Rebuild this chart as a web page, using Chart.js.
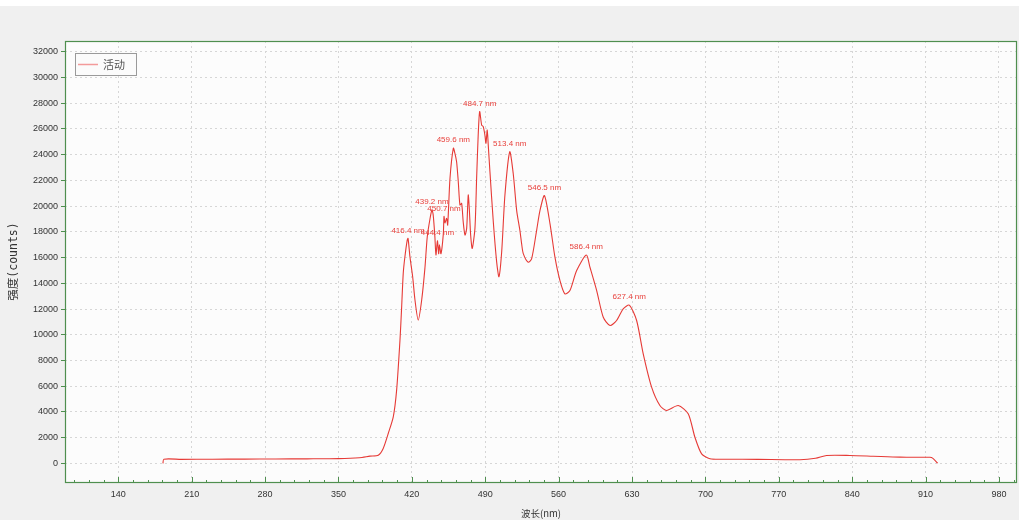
<!DOCTYPE html>
<html>
<head>
<meta charset="utf-8">
<script src="https://cdn.jsdelivr.net/npm/chart.js@4/dist/chart.umd.min.js"></script>
<style>
html,body{margin:0;padding:0;background:#f0f0f0;}
#wrap{width:1019px;height:520px;}
</style>
</head>
<body>
<div id="wrap"><canvas id="c" width="1019" height="520"></canvas></div>
<script>
// ---- data ----
const seriesLabel = '活动';
const wavelength = [182.6,183.5,200,230,260,290,320,350,370,380.1,388.0,392.7,397.5,402.3,405.5,408.7,410.3,411.8,413.4,415.6,416.4,418.2,420.8,423.0,426.1,429.4,432.5,434.7,437.3,439.2,440.4,442.0,443.0,444.4,445.6,446.3,447.8,450.0,450.7,451.6,453.2,454.2,456.4,459.6,461.1,462.7,464.3,465.9,467.5,469.0,470.7,472.3,473.8,474.8,476.1,477.6,480.2,481.8,483.3,484.7,486.6,488.1,489.7,490.7,491.9,492.9,494.5,497.7,500.9,503.1,505.7,508.8,513.4,516.7,520.0,523.1,524.7,526.3,531.0,534.3,539.0,542.2,546.5,551.8,556.5,561.3,566.0,570.8,577.2,586.4,589.9,596.3,602.6,609.0,615.3,621.6,627.4,634.4,640.7,648.7,656.6,663.0,674.1,683.6,690.0,696.4,704.3,720,750,790.2,805,815.6,837.9,860,885.5,914.1,917,921.5];
const intensity = [0,330,320,330,340,350,360,380,450,570,645,1170,2330,3620,5700,9590,12170,14770,16060,17360,17490,16060,14510,12700,11140,12700,15200,17600,19000,19700,19300,17600,16200,17300,16300,17000,16300,17800,19200,18700,19050,18530,22160,24500,24100,23450,21890,20080,20210,18780,17750,18270,20860,19820,17750,16710,18270,22160,25520,27350,26300,26170,25520,24880,25910,24740,22670,18780,15670,14510,16450,20860,24220,22530,19650,18100,17090,16310,15640,15920,18100,19650,20820,18620,16030,14210,13180,13440,14990,16200,15250,13440,11360,10720,11110,12020,12300,11110,8520,5930,4500,4120,4500,3860,2040,750,365,330,320,290,400,620,620,560,490,480,400,20];
const peakWl  = [416.4, 439.2, 444.4, 450.7, 459.6, 484.7, 513.4, 546.5, 586.4, 627.4];
const peakVal = [17490, 19700, 17300, 19200, 24500, 27350, 24220, 20820, 16200, 12300];
const xTicks = [140,210,280,350,420,490,560,630,700,770,840,910,980];
const yTicks = [0,2000,4000,6000,8000,10000,12000,14000,16000,18000,20000,22000,24000,26000,28000,30000,32000];
const xTitle = '波长(nm)';
const yTitle = '强度(counts)';

// ---- styling ----
const LINE = '#e63a36';
const GREEN = '#4f8f4f';
const TICKFONT = {family:'Liberation Sans, Arial, sans-serif', size:9};

const points = wavelength.map((w,i)=>({x:w, y:intensity[i]}));

const decor = {
  id:'decor',
  beforeDraw(chart){
    const {ctx, chartArea:a, width, height} = chart;
    ctx.save();
    ctx.fillStyle='#ffffff'; ctx.fillRect(0,0,width,height);
    ctx.fillStyle='#f0f0f0'; ctx.fillRect(0,6,width,height-6);
    ctx.fillStyle='#fcfcfc'; ctx.fillRect(a.left,a.top,a.right-a.left,a.bottom-a.top);
    ctx.restore();
  },
  afterDatasetsDraw(chart){
    const {ctx} = chart;
    const xs = chart.scales.x, ys = chart.scales.y;
    ctx.save();
    ctx.fillStyle = '#e8413c';
    ctx.font = '8px "Liberation Sans", Arial, sans-serif';
    ctx.textAlign='center';
    ctx.textBaseline='middle';
    peakWl.forEach((w,i)=>{
      const px = xs.getPixelForValue(w);
      const py = ys.getPixelForValue(peakVal[i]);
      ctx.fillText(w.toFixed(1)+' nm', px, py-8);
    });
    ctx.restore();
  },
  afterDraw(chart){
    const {ctx, chartArea:a} = chart;
    const xs = chart.scales.x;
    ctx.save();
    // x ticks inside
    ctx.strokeStyle = GREEN; ctx.lineWidth = 1;
    ctx.beginPath();
    for(let v = xTicks[0]-70; v <= xTicks[xTicks.length-1]+70; v += 14){
      if(v < xs.min || v > xs.max) continue;
      const px = Math.round(xs.getPixelForValue(v))+0.5;
      const major = xTicks.includes(v);
      ctx.moveTo(px, a.bottom); ctx.lineTo(px, a.bottom-(major?5:2));
    }
    ctx.stroke();
    // border
    ctx.strokeStyle = GREEN; ctx.lineWidth = 1.2;
    ctx.strokeRect(a.left+0.5, a.top+0.5, a.right-a.left-1, a.bottom-a.top);
    // legend
    const lx = a.left+10, ly = a.top+12, lw = 61, lh = 22;
    ctx.fillStyle = '#fbfbfb';
    ctx.fillRect(lx, ly, lw, lh);
    ctx.strokeStyle = '#9a9a9a'; ctx.lineWidth = 1;
    ctx.strokeRect(lx+0.5, ly+0.5, lw, lh);
    ctx.strokeStyle = '#f39a9a'; ctx.lineWidth = 1.5;
    ctx.beginPath(); ctx.moveTo(lx+3, ly+11.5); ctx.lineTo(lx+23, ly+11.5); ctx.stroke();
    ctx.fillStyle = '#555';
    ctx.font = '11px "Noto Sans CJK SC", sans-serif';
    ctx.textAlign='left'; ctx.textBaseline='middle';
    ctx.fillText(chart.data.datasets[0].label, lx+28, ly+11.5);
    ctx.restore();
  }
};

new Chart(document.getElementById('c'), {
  type:'line',
  data:{ datasets:[{
    label: seriesLabel,
    data: points,
    borderColor: LINE,
    borderWidth: 1.1,
    pointRadius: 0,
    tension: 0.25,
    fill: false
  }]},
  options:{
    responsive:false,
    animation:false,
    devicePixelRatio:1,
    layout:{padding:{top:41,right:2,left:0,bottom:0}},
    plugins:{legend:{display:false}, tooltip:{enabled:false}},
    scales:{
      x:{
        type:'linear', min:89.2, max:997.2,
        afterBuildTicks(s){ s.ticks = xTicks.map(v=>({value:v})); },
        afterFit(s){ s.height = 38; },
        grid:{color:'#d6d6d6', lineWidth:1, drawTicks:false},
        border:{display:false, dash:[2,3]},
        ticks:{font:TICKFONT, color:'#333', padding:7, maxRotation:0, autoSkip:false},
        title:{display:true, text:xTitle, color:'#333', font:{family:'"Noto Sans CJK SC", sans-serif', size:9.5}, padding:{top:0,bottom:1}}
      },
      y:{
        type:'linear', min:-1440, max:32830,
        afterBuildTicks(s){ s.ticks = yTicks.map(v=>({value:v})); },
        afterFit(s){ s.width = 65; },
        grid:{color:'#d6d6d6', lineWidth:1, drawTicks:true, tickLength:4, tickColor:GREEN},
        border:{display:false, dash:[2,3]},
        ticks:{font:TICKFONT, color:'#333', padding:3, autoSkip:false, callback:v=>String(v)},
        title:{display:true, text:yTitle, color:'#333', font:{family:'"DejaVu Sans Mono", "Noto Sans CJK SC", monospace', size:11.5}, padding:{top:7,bottom:0}}
      }
    }
  },
  plugins:[decor]
});
</script>
</body>
</html>
